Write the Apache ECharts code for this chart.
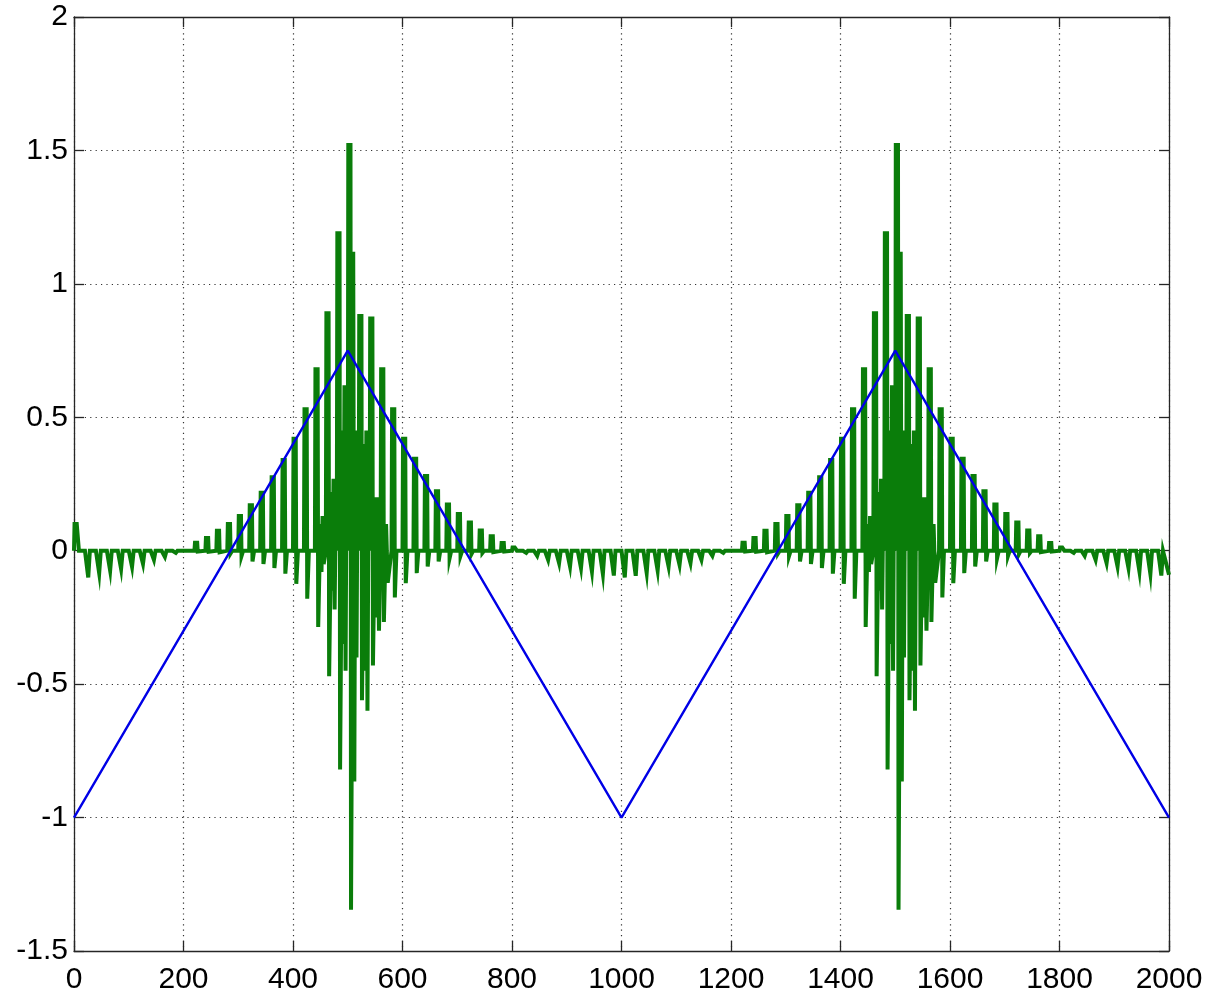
<!DOCTYPE html>
<html>
<head>
<meta charset="utf-8">
<script src="https://cdn.jsdelivr.net/npm/echarts@6/dist/echarts.min.js"></script>
<style>
  html, body { margin: 0; padding: 0; background: #fff; }
  #chart { width: 1210px; height: 1001px; }
</style>
</head>
<body>
<div id="chart"></div>
<script>
// Triangle reference wave: corner samples and values
const triX = [0, 500, 1000, 1500, 2000];
const triY = [-1, 0.75, -1, 0.75, -1];

// Impulse train: one pulse every 20 samples (pulse k sits at sample 20k+1).
// spikeHi = upward excursion, spikeLo = the dip that follows it.
const spikeHi = [
  0.10, 0, 0, 0, 0, 0, 0, 0, 0, 0,
  0, 0.03, 0.048, 0.075, 0.10, 0.13, 0.17, 0.217, 0.275, 0.34,
  0.42, 0.53, 0.68, 0.89, 1.19, 1.52, 0.88, 0.87, 0.68, 0.53,
  0.42, 0.345, 0.28, 0.223, 0.173, 0.138, 0.106, 0.076, 0.054, 0.029,
  0.012, 0, 0, 0, 0, 0, 0, 0, 0, 0,
  0, 0, 0, 0, 0, 0, 0, 0, 0, 0,
  0, 0.03, 0.048, 0.075, 0.10, 0.13, 0.17, 0.217, 0.275, 0.34,
  0.42, 0.53, 0.68, 0.89, 1.19, 1.52, 0.88, 0.87, 0.68, 0.53,
  0.42, 0.345, 0.28, 0.223, 0.173, 0.138, 0.106, 0.076, 0.054, 0.029,
  0.012, 0, 0, 0, 0, 0, 0, 0, 0, 0
];
const spikeLo = [
  0, -0.10, -0.084, -0.074, -0.068, -0.06, -0.049, -0.034, -0.023, -0.008,
  0, -0.003, -0.004, -0.006, -0.01, -0.02, -0.04, -0.05, -0.065, -0.086,
  -0.124, -0.18, -0.286, -0.47, -0.82, -1.345, -0.56, -0.43, -0.267, -0.175,
  -0.122, -0.084, -0.059, -0.04, -0.028, -0.019, -0.012, -0.008, -0.005, -0.003,
  0, -0.008, -0.019, -0.034, -0.046, -0.059, -0.065, -0.078, -0.087, -0.093,
  -0.10, -0.094, -0.083, -0.074, -0.059, -0.053, -0.046, -0.034, -0.019, -0.008,
  0, -0.003, -0.004, -0.006, -0.01, -0.02, -0.04, -0.05, -0.065, -0.086,
  -0.124, -0.18, -0.286, -0.47, -0.82, -1.345, -0.56, -0.43, -0.267, -0.175,
  -0.122, -0.084, -0.059, -0.04, -0.028, -0.019, -0.012, -0.008, -0.005, -0.003,
  0, -0.008, -0.019, -0.034, -0.046, -0.059, -0.065, -0.078, -0.087, -0.093
];

// Ringing between the pulses around the two bursts (sample, value)
const burstX = [
  450, 452, 454, 456,
  470, 472, 474, 476, 478,
  490, 492, 494, 496, 498,
  510, 512, 514, 516, 518,
  530, 532, 534, 536, 538,
  550, 552, 554, 557,
  570, 573,
  1450, 1452, 1454, 1456,
  1470, 1472, 1474, 1476, 1478,
  1490, 1492, 1494, 1496, 1498,
  1510, 1512, 1514, 1516, 1518,
  1530, 1532, 1534, 1536, 1538,
  1550, 1552, 1554, 1557,
  1570, 1573
];
const burstY = [
  0.10, -0.08, 0.13, -0.05,
  0.22, -0.15, 0.27, -0.22, 0.15,
  0.45, -0.35, 0.62, -0.45, 0.40,
  1.12, -0.865, 0.45, -0.40, 0.35,
  0.40, -0.45, 0.45, -0.60, 0.25,
  0.20, -0.25, 0.20, -0.30,
  0.10, -0.12,
  0.10, -0.08, 0.13, -0.05,
  0.22, -0.15, 0.27, -0.22, 0.15,
  0.45, -0.35, 0.62, -0.45, 0.40,
  1.12, -0.865, 0.45, -0.40, 0.35,
  0.40, -0.45, 0.45, -0.60, 0.25,
  0.20, -0.25, 0.20, -0.30,
  0.10, -0.12
];

// Last sample on the right edge
const endX = 2000;
const endY = -0.09;

const xTicks = { min: 0, max: 2000, interval: 200 };
const yTicks = { min: -1.5, max: 2, interval: 0.5 };

// Assemble the polyline: each pulse is a short flat-topped bar followed by its dip
const pts = [];
for (let k = 0; k < spikeHi.length; k++) {
  const s = 20 * k + 1;
  pts.push([Math.max(0, s - 1), 0]);
  if (spikeHi[k] !== 0) {
    pts.push([s, spikeHi[k]]);
    pts.push([s + 4, spikeHi[k]]);
  }
  if (spikeLo[k] !== 0) {
    pts.push([s + 5, spikeLo[k]]);
    pts.push([s + 7, spikeLo[k]]);
  }
  pts.push([s + 8, 0]);
}
for (let i = 0; i < burstX.length; i++) pts.push([burstX[i], burstY[i]]);
pts.push([endX, endY]);
pts.sort((a, b) => a[0] - b[0]);

const triData = triX.map((x, i) => [x, triY[i]]);

const font = 'Liberation Sans, Helvetica, Arial, sans-serif';
const axisColor = '#262626';
const plain = v => String(v);

const chart = echarts.init(document.getElementById('chart'), null, { renderer: 'canvas' });
chart.setOption({
  animation: false,
  backgroundColor: '#ffffff',
  grid: { left: 74, right: 41, top: 17, bottom: 50, containLabel: false },
  xAxis: [
    {
      type: 'value', min: xTicks.min, max: xTicks.max, interval: xTicks.interval,
      position: 'bottom',
      axisLine: { show: true, onZero: false, lineStyle: { color: axisColor, width: 1.3 } },
      axisTick: { show: true, inside: true, length: 10, lineStyle: { color: axisColor, width: 1.3 } },
      axisLabel: { color: '#000', fontFamily: font, fontSize: 30, margin: 14, formatter: plain },
      splitLine: { show: true, lineStyle: { color: '#333', width: 1.2, type: [1.2, 4.2] } }
    },
    {
      type: 'value', min: xTicks.min, max: xTicks.max, interval: xTicks.interval,
      position: 'top',
      axisLine: { show: true, onZero: false, lineStyle: { color: axisColor, width: 1.3 } },
      axisTick: { show: true, inside: true, length: 10, lineStyle: { color: axisColor, width: 1.3 } },
      axisLabel: { show: false },
      splitLine: { show: false }
    }
  ],
  yAxis: [
    {
      type: 'value', min: yTicks.min, max: yTicks.max, interval: yTicks.interval,
      position: 'left',
      axisLine: { show: true, onZero: false, lineStyle: { color: axisColor, width: 1.3 } },
      axisTick: { show: true, inside: true, length: 10, lineStyle: { color: axisColor, width: 1.3 } },
      axisLabel: { color: '#000', fontFamily: font, fontSize: 30, margin: 6, formatter: plain },
      splitLine: { show: true, lineStyle: { color: '#333', width: 1.2, type: [1.2, 4.2] } }
    },
    {
      type: 'value', min: yTicks.min, max: yTicks.max, interval: yTicks.interval,
      position: 'right',
      axisLine: { show: true, onZero: false, lineStyle: { color: axisColor, width: 1.3 } },
      axisTick: { show: true, inside: true, length: 10, lineStyle: { color: axisColor, width: 1.3 } },
      axisLabel: { show: false },
      splitLine: { show: false }
    }
  ],
  series: [
    {
      name: 'pulse',
      type: 'line',
      data: pts,
      xAxisIndex: 0, yAxisIndex: 0,
      showSymbol: false,
      symbol: 'none',
      sampling: 'none',
      lineStyle: { color: '#0a7d0a', width: 4, join: 'miter' },
      z: 2
    },
    {
      name: 'triangle',
      type: 'line',
      data: triData,
      xAxisIndex: 0, yAxisIndex: 0,
      showSymbol: false,
      symbol: 'none',
      lineStyle: { color: '#0000e6', width: 2.4 },
      z: 3
    }
  ]
});
</script>
</body>
</html>
